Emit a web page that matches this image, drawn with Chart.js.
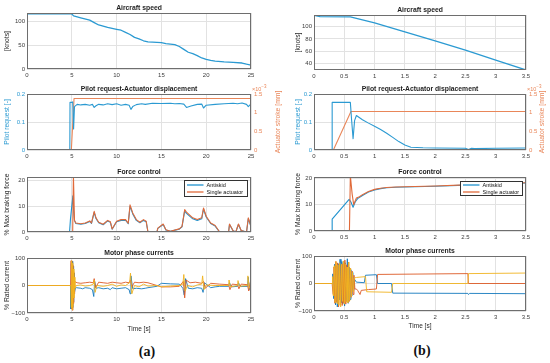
<!DOCTYPE html>
<html>
<head>
<meta charset="utf-8">
<title>Braking tests</title>
<script src="https://cdn.jsdelivr.net/npm/chart.js@4.4.1/dist/chart.umd.min.js"></script>
<style>
  html, body { margin: 0; padding: 0; background: #fff; }
  #fig { position: relative; width: 550px; height: 363px; overflow: hidden; background: #fff; }
  #fig canvas { position: absolute; }
  .cap { position: absolute; font: bold 14px "Liberation Serif", "DejaVu Serif", serif; color: #111; transform: translate(-50%, -50%); }
</style>
</head>
<body>
<div id="fig">
  <div class="cap" style="left:147px; top:352px">(a)</div>
  <div class="cap" style="left:422px; top:351px">(b)</div>
</div>
<script>
// ---- ticks ----
const xTicksA = [0, 5, 10, 15, 20, 25];
const xTicksB = [0, 0.5, 1, 1.5, 2, 2.5, 3, 3.5];
const speedTicksA = [0, 50, 100];
const speedTicksB = [40, 60, 80, 100];
const pilotTicks = [0, 0.1, 0.2];
const strokeTicks = [0, 0.5, 1, 1.5];
const forceTicks = [0, 10, 20];
const currentTicks = [-100, 0, 100];
const forceNames = ['Antiskid', 'Single actuator'];

// ---- (a) speed ----
const speedTimeA = [0, 5, 5.2, 6, 7, 7.5, 8, 9, 10, 10.5, 11, 11.5, 12, 12.5, 13, 13.5, 14, 15, 15.5, 16, 16.5, 17, 17.5, 18, 18.5, 19, 19.5, 20, 20.5, 21, 22, 23, 24, 24.5, 25];
const speedA = [115, 115, 111, 107, 102, 97, 92, 87, 83, 81, 76.5, 72, 66, 63, 59, 56.5, 56, 55, 53, 52, 51, 47, 41, 35, 32, 28, 23, 20, 18, 16.5, 15, 14, 12.5, 10, 8];

// ---- (a) pilot request / actuator stroke (x1e-3 mm) ----
const pilotTimeA = [0, 4.78, 4.8, 5.05, 5.1, 5.15, 5.2, 5.3, 5.6, 6, 6.5, 7, 7.3, 7.5, 7.7, 8, 8.5, 9, 9.5, 10, 10.5, 11, 11.4, 11.6, 11.8, 12.2, 12.8, 13.2, 14, 15, 16, 16.5, 17, 17.5, 17.8, 18.3, 19, 19.5, 19.7, 20, 21, 22, 23, 23.5, 24, 24.5, 24.7, 25];
const pilotA = [0, 0, 0.17, 0.17, 0.172, 0.12, 0.075, 0.155, 0.163, 0.161, 0.163, 0.16, 0.163, 0.152, 0.158, 0.163, 0.161, 0.165, 0.162, 0.165, 0.16, 0.163, 0.16, 0.145, 0.155, 0.162, 0.165, 0.163, 0.167, 0.166, 0.167, 0.165, 0.166, 0.164, 0.152, 0.157, 0.163, 0.164, 0.15, 0.16, 0.163, 0.165, 0.167, 0.165, 0.168, 0.163, 0.155, 0.165];
const strokeTimeA = [0, 4.95, 5.25, 25];
const strokeA = [0, 0, 1.38, 1.38];

// ---- (a) force control ----
const antiskidTimeA = [0, 4.75, 4.85, 5.0, 5.12, 5.18, 5.3, 5.45, 6, 6.5, 7, 7.2, 7.5, 7.7, 8, 8.5, 9, 9.3, 9.5, 10, 10.5, 11, 11.3, 11.5, 11.8, 12.2, 12.6, 13, 13.3, 13.5, 14.5, 14.6, 15.2, 15.5, 16, 17, 17.3, 17.6, 17.8, 18.5, 19, 19.5, 19.7, 20, 20.5, 21, 21.5, 22.5, 22.6, 23, 23.3, 23.6, 23.9, 24.5, 24.7, 25];
const antiskidA = [0, 0, 5, 10, 14, 9, 4.5, 3.3, 3.0, 3.3, 4.1, 3.3, 7.6, 5.2, 3.6, 2.8, 4.3, 3.8, 1.1, 4.0, 4.5, 4.6, 3.2, 10.0, 7.0, 4.5, 3.6, 4.5, 4.0, 0, 0, 1.4, 2.9, 0.8, 0.3, 1.1, 2.0, 8.2, 7.2, 5.1, 4.5, 5.1, 8.9, 5.8, 3.3, 2.3, 0, 0, 2.9, 0.5, 0, 2.9, 0.6, 0, 5.2, 2.0];
const singleTimeA = [0, 5.1, 5.18, 5.3, 5.45, 6, 6.5, 7, 7.2, 7.5, 7.7, 8, 8.5, 9, 9.3, 9.5, 10, 10.5, 11, 11.3, 11.5, 11.8, 12.2, 12.6, 13, 13.3, 13.5, 14.5, 14.6, 15.2, 15.5, 16, 17, 17.3, 17.6, 17.8, 18.5, 19, 19.5, 19.7, 20, 20.5, 21, 21.5, 22.5, 22.6, 23, 23.3, 23.6, 23.9, 24.5, 24.7, 25];
const singleA = [0, 0, 22, 4.5, 3.5, 3.2, 3.5, 4.3, 3.5, 8.0, 5.5, 3.8, 3.0, 4.5, 4.0, 1.2, 4.2, 4.8, 4.8, 3.4, 10.5, 7.4, 4.8, 3.8, 4.8, 4.2, 0, 0, 1.5, 3.1, 0.9, 0.3, 1.2, 2.2, 8.7, 7.7, 5.5, 4.8, 5.5, 9.3, 6.1, 3.5, 2.5, 0, 0, 3.1, 0.5, 0, 3.1, 0.6, 0, 5.5, 2.2];

// ---- (a) motor phase currents ----
const curTimeA1 = [0, 4.85, 4.9, 4.95, 5.0, 5.05, 5.1, 5.15, 5.2, 5.25, 5.3, 5.4, 5.5, 6.0, 6.2, 6.5, 7.0, 7.3, 7.45, 7.55, 7.7, 8.0, 8.5, 9.0, 9.3, 9.5, 10.0, 10.5, 11.0, 11.4, 11.5, 11.6, 11.8, 12.2, 12.8, 13.2, 13.5, 14.5, 15.0, 16.0, 17.0, 17.4, 17.55, 17.7, 18.0, 18.5, 19.0, 19.5, 19.65, 19.8, 20.5, 21.0, 21.5, 22.5, 22.6, 22.8, 23.5, 23.6, 23.8, 24.6, 24.7, 24.8, 25];
const curA1 = [0, 0, -85, 80, -75, 88, -80, 70, -60, 45, -25, -10, -8, -10, -12, -8, -10, -15, -40, 15, -10, -8, -12, -10, -15, -8, -12, -10, -8, -15, -30, 35, -12, -10, -12, -10, -8, -3, 8, 6, 5, -10, -35, 25, -10, -12, -8, -10, -25, 10, -8, -5, -3, -3, 10, -5, -3, 10, -4, -3, 30, -15, -5];
const curTimeA2 = [0, 4.87, 4.92, 4.97, 5.02, 5.07, 5.12, 5.17, 5.22, 5.27, 5.32, 5.45, 5.6, 6, 6.5, 7, 7.4, 7.5, 7.65, 8, 8.5, 9, 9.5, 10, 10.5, 11, 11.4, 11.55, 11.7, 12, 12.5, 13, 13.5, 14.5, 15, 16, 17, 17.45, 17.6, 17.75, 18.2, 18.8, 19.5, 19.7, 19.9, 20.5, 21.5, 22.5, 22.65, 22.9, 23.5, 23.65, 23.9, 24.6, 24.75, 24.9, 25];
const curA2 = [0, 0, 90, -85, 78, -90, 75, -65, 50, -30, 15, 12, 10, 8, 10, 12, 10, 25, -8, 12, 10, 8, 12, 10, 8, 12, 10, 20, -5, 12, 10, 12, 10, 0, -5, -5, -3, 15, -45, 20, 10, 12, 8, 15, -10, 8, 5, 3, -15, 5, 3, -12, 5, 3, -20, 10, 5];
const curTimeA3 = [0, 4.88, 4.93, 4.98, 5.03, 5.08, 5.13, 5.18, 5.23, 5.28, 5.35, 5.5, 6, 6.5, 7, 7.4, 7.5, 7.6, 7.8, 8.5, 9, 9.5, 10, 10.5, 11, 11.45, 11.55, 11.7, 12, 12.5, 13, 13.5, 14.5, 15, 16, 17, 17.4, 17.5, 17.65, 17.9, 18.5, 19, 19.5, 19.6, 19.75, 20, 21, 22, 22.5, 22.55, 22.7, 23.5, 23.55, 23.7, 24.6, 24.65, 24.8, 25];
const curA3 = [0, 0, -80, 90, -88, 82, -78, 60, -45, 30, -10, 0, 2, -2, 0, 5, 20, -25, 0, -3, 0, 5, -3, 2, 0, 10, 45, -30, 0, -5, 5, -2, 0, -5, -2, 0, 5, 40, -20, 0, -5, 2, 5, 35, -15, 2, 0, 0, 0, 20, -5, 0, 18, -3, 0, 35, -10, 0];

// ---- (b) speed ----
const speedTimeB = [0, 0.1, 0.6, 1, 1.5, 2, 2.5, 3, 3.5];
const speedB = [118, 116, 115.5, 106, 91.5, 77, 62, 46, 30];

// ---- (b) pilot request / actuator stroke ----
const pilotTimeB = [0, 0.3, 0.3, 0.6, 0.62, 0.645, 0.67, 0.7, 0.8, 0.9, 1.0, 1.1, 1.2, 1.3, 1.4, 1.5, 1.6, 1.8, 2.0, 2.5, 2.55, 2.6, 2.65, 3.0, 3.5];
const pilotB = [0, 0, 0.17, 0.17, 0.11, 0.04, 0.105, 0.123, 0.108, 0.096, 0.085, 0.073, 0.06, 0.045, 0.03, 0.018, 0.01, 0.008, 0.007, 0.006, 0.002, 0.006, 0.005, 0.006, 0.007];
const strokeTimeB = [0, 0.32, 0.61, 3.5];
const strokeB = [0, 0, 1.03, 1.03];

// ---- (b) force control ----
const antiskidTimeB = [0, 0.3, 0.3, 0.58, 0.61, 0.645, 0.68, 0.72, 0.8, 0.9, 1.0, 1.1, 1.2, 1.35, 1.5, 2.0, 2.5, 3.0, 3.5];
const antiskidB = [0, 0, 4.5, 12, 11, 9, 11, 12.3, 13.5, 14.8, 15.6, 16.1, 16.4, 16.6, 16.7, 17.0, 17.4, 17.8, 18.2];
const singleTimeB = [0, 0.585, 0.6, 0.63, 0.655, 0.7, 0.75, 0.8, 0.9, 1.0, 1.1, 1.2, 1.35, 1.5, 2.0, 2.5, 3.0, 3.5];
const singleB = [0, 0, 21, 14, 10, 12.5, 13, 13.8, 15, 15.8, 16.2, 16.5, 16.7, 16.8, 17.1, 17.5, 17.9, 18.3];

// ---- (b) motor phase currents ----
const curTimeB1 = [0, 0.3, 0.31, 0.325, 0.34, 0.355, 0.37, 0.385, 0.4, 0.415, 0.43, 0.445, 0.46, 0.475, 0.49, 0.505, 0.52, 0.535, 0.55, 0.565, 0.58, 0.595, 0.61, 0.625, 0.64, 0.655, 0.67, 0.7, 0.83, 0.85, 1.03, 1.05, 1.28, 1.3, 2.54, 2.55, 2.57, 3.5];
const curB1 = [0, 0, 35, -55, 70, -78, 65, -85, 72, -60, 88, -70, 80, -75, 68, -82, 75, -65, 90, -72, 60, -58, 50, -45, 40, -25, 15, 5, 3, 30, 32, 0, 0, -35, -36, -40, -36, -37];
const curTimeB2 = [0, 0.3, 0.315, 0.33, 0.345, 0.36, 0.375, 0.39, 0.405, 0.42, 0.435, 0.45, 0.465, 0.48, 0.495, 0.51, 0.525, 0.54, 0.555, 0.57, 0.585, 0.6, 0.615, 0.63, 0.645, 0.66, 0.675, 0.7, 0.72, 0.76, 0.78, 0.9, 1.03, 1.05, 2.54, 2.55, 3.5];
const curB2 = [0, 0, -40, 60, -72, 80, -68, 75, -85, 70, -78, 65, -80, 72, -70, 85, -75, 68, -60, 78, -65, 55, -50, 45, -40, 30, -20, -20, -25, -40, -25, -22, -20, 33, 36, 0, 0];
const curTimeB3 = [0, 0.3, 0.305, 0.32, 0.335, 0.35, 0.365, 0.38, 0.395, 0.41, 0.425, 0.44, 0.455, 0.47, 0.485, 0.5, 0.515, 0.53, 0.545, 0.56, 0.575, 0.59, 0.605, 0.62, 0.635, 0.65, 0.665, 0.7, 0.85, 0.87, 1.28, 1.3, 2.54, 2.55, 3.5];
const curB3 = [0, 0, 25, -45, 65, -70, 80, -72, 68, -80, 75, -85, 70, -65, 82, -75, 72, -68, 60, -70, 78, -62, 55, -48, 40, -30, 20, 22, 25, -30, -32, 0, 0, 36, 38];

const FONT = '"Liberation Sans", Arial, Helvetica, sans-serif';
const GRID = '#e2e2e2';
const TEXT = '#3c3c3c';
const BLUE = '#2b9ad2';
const ORANGE = '#e98659';
const ANTI = '#1f92ce';
const SINGLE = '#e06a3a';
const PHASE = ['#1479bd', '#dd5a26', '#f0b320'];

const pts = (t, v) => t.map((x, i) => ({x: x, y: v[i]}));
const ds = (t, v, color, width, extra) =>
  Object.assign({data: pts(t, v), borderColor: color, borderWidth: width, pointRadius: 0, fill: false}, extra || {});

function vtext(ctx, text, x, y, color, size) {
  ctx.save();
  ctx.translate(x, y);
  ctx.rotate(-Math.PI / 2);
  ctx.fillStyle = color;
  ctx.font = size + 'px ' + FONT;
  ctx.textAlign = 'center';
  ctx.textBaseline = 'middle';
  ctx.fillText(text, 0, 0);
  ctx.restore();
}

// titles, box, legend and axis labels drawn on top of each panel
const decorCfg = new Map();
const decor = {
  id: 'decor',
  afterDatasetsDraw(chart) {
    const o = decorCfg.get(chart.canvas);
    const {ctx, chartArea: a} = chart;
    const L = Math.round(a.left) + 0.5, T = Math.round(a.top) + 0.5;
    const R = Math.round(a.right) - 0.5, B = Math.round(a.bottom) - 0.5;
    ctx.save();
    ctx.strokeStyle = '#6e6e6e';
    ctx.lineWidth = 1;
    ctx.strokeRect(L, T, R - L, B - T);

    ctx.fillStyle = '#1e1e1e';
    ctx.font = 'bold 6.8px ' + FONT;
    ctx.textAlign = 'center';
    ctx.textBaseline = 'middle';
    ctx.fillText(o.title, (a.left + a.right) / 2, a.top - 5);

    vtext(ctx, o.yTitle, o.yTitleX, (a.top + a.bottom) / 2, o.yColor || '#262626', 6.8);
    if (o.y2Title) {
      vtext(ctx, o.y2Title, a.right + o.y2Dx, (a.top + a.bottom) / 2, ORANGE, 6.8);
      ctx.fillStyle = ORANGE;
      ctx.textAlign = 'left';
      ctx.font = '5.5px ' + FONT;
      ctx.fillText('\u00d710', a.right + 1, a.top - 5);
      const w = ctx.measureText('\u00d710').width;
      ctx.font = '4.5px ' + FONT;
      ctx.fillText('\u22123', a.right + 1 + w, a.top - 7.5);
    }
    if (o.legend) {
      const lg = o.legend;
      const bx = Math.round(a.right) - 4 - lg.w + 0.5, by = Math.round(a.top) + lg.dy + 0.5;
      ctx.fillStyle = '#fff';
      ctx.fillRect(bx, by, lg.w, lg.h);
      ctx.strokeStyle = '#333';
      ctx.lineWidth = 1;
      ctx.strokeRect(bx, by, lg.w, lg.h);
      ctx.font = '5.5px ' + FONT;
      ctx.textAlign = 'left';
      lg.items.forEach((it, i) => {
        const yy = by + lg.h / 2 - 3.5 + i * 7;
        ctx.strokeStyle = it.color;
        ctx.lineWidth = 1.3;
        ctx.beginPath();
        ctx.moveTo(bx + 2.5, yy);
        ctx.lineTo(bx + 19, yy);
        ctx.stroke();
        ctx.fillStyle = '#111';
        ctx.fillText(it.label, bx + 22, yy);
      });
    }
    ctx.restore();
  }
};

const fig = document.getElementById('fig');
const COL_A = {left: 0, width: 285, plotLeft: 27, plotRight: 251, yTitleX: 7, y2Dx: 27, xMax: 25, xTicks: xTicksA, xH: 20};
const COL_B = {left: 275, width: 275, plotLeft: 314, plotRight: 526, yTitleX: 23, y2Dx: 16.5, xMax: 3.5, xTicks: xTicksB, xH: 19};
const fmt = v => (v < 0 ? '\u2212' + (-v) : String(v));

function axisY(min, max, ticks, width, color, right) {
  return {
    type: 'linear', min: min, max: max, position: right ? 'right' : 'left',
    afterBuildTicks: s => { s.ticks = ticks.map(v => ({value: v})); },
    afterFit: s => { s.width = width; s.paddingTop = 0; s.paddingBottom = 0; },
    grid: {display: !right, color: GRID, drawTicks: false},
    border: {display: false},
    ticks: {padding: right ? 3 : 2, color: color, font: {family: FONT, size: 6}, callback: fmt}
  };
}

function panel(p) {
  const c = p.col;
  const xH = p.xTitle ? c.xH : 14;
  const top = p.top - 13;
  const h = p.bottom - top + xH;
  const cv = document.createElement('canvas');
  cv.width = c.width;
  cv.height = h;
  cv.style.left = c.left + 'px';
  cv.style.top = top + 'px';
  fig.appendChild(cv);
  const side = c.left + c.width - c.plotRight;

  const scales = {
    x: {
      type: 'linear', min: 0, max: c.xMax,
      afterBuildTicks: s => { s.ticks = c.xTicks.map(v => ({value: v})); },
      afterFit: s => { s.height = xH; s.paddingLeft = 0; s.paddingRight = 0; },
      grid: {color: GRID, drawTicks: false},
      border: {display: false},
      ticks: {padding: 3, color: TEXT, font: {family: FONT, size: 6}, maxRotation: 0, autoSkip: false, callback: fmt},
      title: p.xTitle
        ? {display: true, text: p.xTitle, color: '#262626', font: {family: FONT, size: 6.5}, padding: 0}
        : {display: false}
    },
    y: axisY(p.y[0], p.y[1], p.y[2], c.plotLeft - c.left, p.yColor || TEXT, false)
  };
  if (p.y2) scales.y2 = axisY(p.y2[0], p.y2[1], p.y2[2], side, ORANGE, true);

  decorCfg.set(cv, {
    title: p.title, yTitle: p.yTitle, yTitleX: c.yTitleX, yColor: p.yColor,
    y2Title: p.y2Title, y2Dx: c.y2Dx, legend: p.legend
  });

  new Chart(cv, {
    type: 'line',
    data: {datasets: p.datasets},
    options: {
      responsive: false,
      animation: false,
      devicePixelRatio: 1,
      layout: {padding: {top: 13, left: 0, bottom: 0, right: p.y2 ? 0 : side}},
      scales: scales,
      elements: {line: {tension: 0, borderJoinStyle: 'round'}, point: {radius: 0}},
      plugins: {legend: {display: false}, tooltip: {enabled: false}}
    },
    plugins: [decor]
  });
}

const legendItems = [{label: forceNames[0], color: ANTI}, {label: forceNames[1], color: SINGLE}];

// column (a)
panel({col: COL_A, top: 13, bottom: 69, title: 'Aircraft speed', yTitle: '[knots]',
  y: [0, 117, speedTicksA],
  datasets: [ds(speedTimeA, speedA, BLUE, 1.3)]});
panel({col: COL_A, top: 94, bottom: 150, title: 'Pilot request-Actuator displacement',
  yTitle: 'Pilot request [-]', yColor: BLUE, y2Title: 'Actuator stroke [mm]',
  y: [0, 0.2, pilotTicks], y2: [0, 1.5, strokeTicks],
  datasets: [ds(pilotTimeA, pilotA, BLUE, 1.1), ds(strokeTimeA, strokeA, ORANGE, 1.1, {yAxisID: 'y2'})]});
panel({col: COL_A, top: 177, bottom: 232, title: 'Force control', yTitle: '% Max braking force',
  y: [0, 21.3, forceTicks], legend: {items: legendItems, w: 63, h: 16, dy: 3},
  datasets: [ds(antiskidTimeA, antiskidA, ANTI, 1.1, {order: 2}), ds(singleTimeA, singleA, SINGLE, 1.1, {order: 1})]});
panel({col: COL_A, top: 258, bottom: 313, title: 'Motor phase currents', yTitle: '% Rated current', xTitle: 'Time [s]',
  y: [-100, 100, currentTicks],
  datasets: [ds(curTimeA1, curA1, PHASE[0], 0.9, {order: 3}), ds(curTimeA2, curA2, PHASE[1], 0.9, {order: 2}), ds(curTimeA3, curA3, PHASE[2], 0.9, {order: 1})]});

// column (b)
panel({col: COL_B, top: 15, bottom: 70, title: 'Aircraft speed', yTitle: '[knots]',
  y: [30, 118.5, speedTicksB],
  datasets: [ds(speedTimeB, speedB, BLUE, 1.3)]});
panel({col: COL_B, top: 94, bottom: 150, title: 'Pilot request-Actuator displacement',
  yTitle: 'Pilot request [-]', yColor: BLUE, y2Title: 'Actuator stroke [mm]',
  y: [0, 0.2, pilotTicks], y2: [0, 1.5, strokeTicks],
  datasets: [ds(pilotTimeB, pilotB, BLUE, 1.1), ds(strokeTimeB, strokeB, ORANGE, 1.1, {yAxisID: 'y2'})]});
panel({col: COL_B, top: 177, bottom: 231, title: 'Force control', yTitle: '% Max braking force',
  y: [0, 20.5, forceTicks], legend: {items: legendItems, w: 62, h: 14, dy: 4},
  datasets: [ds(antiskidTimeB, antiskidB, ANTI, 1.1, {order: 2}), ds(singleTimeB, singleB, SINGLE, 1.1, {order: 1})]});
panel({col: COL_B, top: 256, bottom: 311, title: 'Motor phase currents', yTitle: '% Rated current', xTitle: 'Time [s]',
  y: [-100, 100, currentTicks],
  datasets: [ds(curTimeB1, curB1, PHASE[0], 0.9, {order: 3}), ds(curTimeB2, curB2, PHASE[1], 0.9, {order: 2}), ds(curTimeB3, curB3, PHASE[2], 0.9, {order: 1})]});
</script>
</body>
</html>
